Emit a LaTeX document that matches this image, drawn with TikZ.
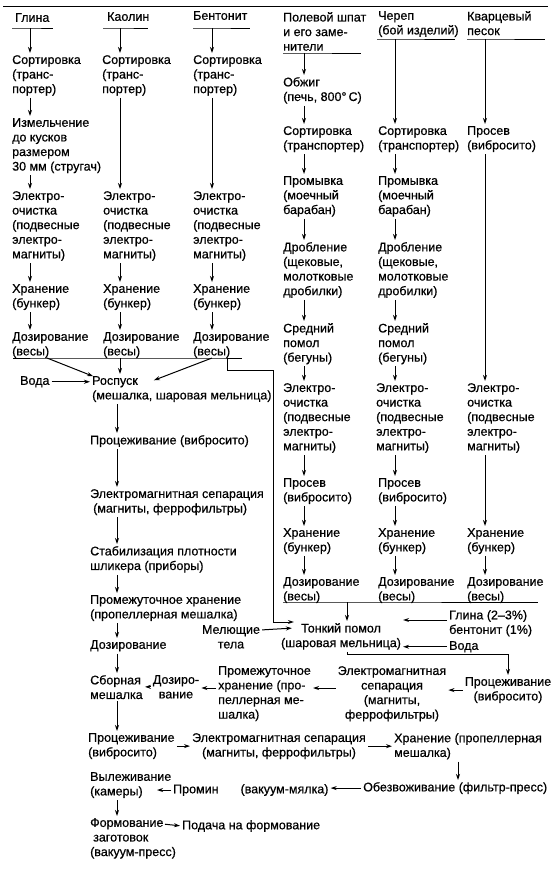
\documentclass[tikz,border=0pt]{standalone}
\usepackage{fontspec}
\setmainfont{Liberation Sans}[FakeBold=0.6]
\usetikzlibrary{arrows.meta,calc}

\begin{document}
\begin{tikzpicture}
[x=1pt, y=-1pt,
every node/.style={inner sep=0pt, font=\fontsize{12.5}{14.6}\selectfont},
stage/.style={anchor=north west, align=left},
mid/.style={anchor=north, align=center},
rule/.style={line width=1pt},
flow/.style={line width=1pt, -{Stealth[length=6pt, width=4pt]}, shorten <=2pt, shorten >=2pt},
from rule/.style={shorten <=0pt}]
\useasboundingbox (0,0) rectangle (560,871);
\coordinate (cg) at (30,0);
\coordinate (ck) at (120,0);
\coordinate (cb) at (212,0);
\coordinate (cm) at (117,0);
\coordinate (cf) at (304,0);
\coordinate (cc) at (395,0);
\coordinate (cq) at (485,0);
\coordinate (ch) at (458,0);
\draw [rule] (3,6) -- (548,6);
\node (g0) [stage] at (15, 13) {Глина};
\node (k0) [stage] at (107, 12) {Каолин};
\node (b0) [stage] at (193, 11) {Бентонит};
\node (f0) [stage] at (283, 12) {Полевой шпат\\и его заме-\\нители};
\node (c0) [stage] at (378, 11) {Череп\\(бой изделий)};
\node (q0) [stage] at (467, 11) {Кварцевый\\песок};
\draw [rule] (12,28) -- (30,28) coordinate (g0u) -- (53,28);
\draw [rule] (103,28) -- (120,28) coordinate (k0u) -- (148,28);
\draw [rule] (193,28) -- (212,28) coordinate (b0u) -- (250,28);
\draw [rule] (283,53) -- (304,53) coordinate (f0u) -- (361,53);
\draw [rule] (377,39) -- (395,39) coordinate (c0u) -- (455,39);
\draw [rule] (467,39) -- (485,39) coordinate (q0u) -- (545,39);
\node (g1) [stage] at (12, 55) {Сортировка\\(транс-\\портер)};
\node (k1) [stage] at (102, 55) {Сортировка\\(транс-\\портер)};
\node (b1) [stage] at (193, 55) {Сортировка\\(транс-\\портер)};
\node (g2) [stage] at (12, 118) {Измельчение\\до кусков\\размером\\30 мм (стругач)};
\node (g3) [stage] at (12, 191) {Электро-\\очистка\\(подвесные\\электро-\\магниты)};
\node (k3) [stage] at (103, 191) {Электро-\\очистка\\(подвесные\\электро-\\магниты)};
\node (b3) [stage] at (193, 191) {Электро-\\очистка\\(подвесные\\электро-\\магниты)};
\node (g4) [stage] at (12, 284) {Хранение\\(бункер)};
\node (k4) [stage] at (103, 284) {Хранение\\(бункер)};
\node (b4) [stage] at (193, 284) {Хранение\\(бункер)};
\node (g5) [stage] at (12, 332) {Дозирование\\(весы)};
\node (k5) [stage] at (103, 332) {Дозирование\\(весы)};
\node (b5) [stage] at (193, 332) {Дозирование\\(весы)};
\node (f1) [stage] at (283, 77) {Обжиг\\(печь, 800°\,С)};
\node (f2) [stage] at (283, 126) {Сортировка\\(транспортер)};
\node (c2) [stage] at (378, 126) {Сортировка\\(транспортер)};
\node (q1) [stage] at (467, 126) {Просев\\(вибросито)};
\node (f3) [stage] at (283, 176) {Промывка\\(моечный\\барабан)};
\node (c3) [stage] at (378, 176) {Промывка\\(моечный\\барабан)};
\node (f4) [stage] at (283, 242) {Дробление\\(щековые,\\молотковые\\дробилки)};
\node (c4) [stage] at (378, 242) {Дробление\\(щековые,\\молотковые\\дробилки)};
\node (f5) [stage] at (283, 323) {Средний\\помол\\(бегуны)};
\node (c5) [stage] at (378, 323) {Средний\\помол\\(бегуны)};
\node (f6) [stage] at (283, 383) {Электро-\\очистка\\(подвесные\\электро-\\магниты)};
\node (c6) [stage] at (376, 383) {Электро-\\очистка\\(подвесные\\электро-\\магниты)};
\node (q6) [stage] at (467, 383) {Электро-\\очистка\\(подвесные\\электро-\\магниты)};
\node (f7) [stage] at (283, 478) {Просев\\(вибросито)};
\node (c7) [stage] at (378, 478) {Просев\\(вибросито)};
\node (f8) [stage] at (283, 528) {Хранение\\(бункер)};
\node (c8) [stage] at (378, 528) {Хранение\\(бункер)};
\node (q8) [stage] at (467, 528) {Хранение\\(бункер)};
\node (f9) [stage] at (283, 577) {Дозирование\\(весы)};
\node (c9) [stage] at (378, 577) {Дозирование\\(весы)};
\node (q9) [stage] at (467, 577) {Дозирование\\(весы)};
\node (voda) [stage] at (20, 376) {Вода};
\node (m1) [stage] at (92, 376) {Роспуск\\(мешалка, шаровая мельница)};
\node (m2) [stage] at (90, 435) {Процеживание (вибросито)};
\node (m3) [stage] at (90, 489) {Электромагнитная сепарация\\\hspace*{3pt}(магниты, феррофильтры)};
\node (m4) [stage] at (90, 546) {Стабилизация плотности\\шликера (приборы)};
\node (m5) [stage] at (90, 595) {Промежуточное хранение\\(пропеллерная мешалка)};
\node (m6) [stage] at (90, 640) {Дозирование};
\node (m7) [stage] at (90, 675) {Сборная\\мешалка};
\node (m8) [stage] at (88, 733) {Процеживание\\(вибросито)};
\node (m9) [stage] at (90, 772) {Вылеживание\\(камеры)};
\node (m10) [stage] at (90, 818) {Формование\\\hspace*{3pt}заготовок\\(вакуум-пресс)};
\node (t1) [mid] at (341, 623) {Тонкий помол\\(шаровая мельница)};
\node (mt) [mid] at (231, 625) {Мелющие\\тела};
\node (gb) [stage] at (449, 610) {Глина (2–3\%)\\бентонит (1\%)};
\node (w2) [stage] at (449, 641) {Вода};
\node (p1) [mid] at (508, 677) {Процеживание\\(вибросито)};
\node (e1) [mid] at (392, 666) {Электромагнитная\\сепарация\\(магниты,\\феррофильтры)};
\node (h1) [stage] at (218, 666) {Промежуточное\\хранение (про-\\пеллерная ме-\\шалка)};
\node (d1) [mid] at (176, 675) {Дозиро-\\вание};
\node (e2) [mid] at (279, 733) {Электромагнитная сепарация\\(магниты, феррофильтры)};
\node (h2) [stage] at (394, 733) {Хранение (пропеллерная\\мешалка)};
\node (o1) [stage] at (363, 782) {Обезвоживание (фильтр-пресс)};
\node (pm) [stage] at (173, 784) {Промин\hspace*{22pt}(вакуум-мялка)};
\node (fe) [stage] at (182, 820) {Подача на формование};
\draw [flow, from rule] (g0u) -- (g1.north -| cg);
\draw [flow] (g1.south -| cg) -- (g2.north -| cg);
\draw [flow] (g2.south -| cg) -- (g3.north -| cg);
\draw [flow] (g3.south -| cg) -- (g4.north -| cg);
\draw [flow] (g4.south -| cg) -- (g5.north -| cg);
\draw [flow, from rule] (k0u) -- (k1.north -| ck);
\draw [flow] (k1.south -| ck) -- (k3.north -| ck);
\draw [flow] (k3.south -| ck) -- (k4.north -| ck);
\draw [flow] (k4.south -| ck) -- (k5.north -| ck);
\draw [flow, from rule] (b0u) -- (b1.north -| cb);
\draw [flow] (b1.south -| cb) -- (b3.north -| cb);
\draw [flow] (b3.south -| cb) -- (b4.north -| cb);
\draw [flow] (b4.south -| cb) -- (b5.north -| cb);
\draw [flow, from rule] (f0u) -- (f1.north -| cf);
\draw [flow] (f1.south -| cf) -- (f2.north -| cf);
\draw [flow] (f2.south -| cf) -- (f3.north -| cf);
\draw [flow] (f3.south -| cf) -- (f4.north -| cf);
\draw [flow] (f4.south -| cf) -- (f5.north -| cf);
\draw [flow] (f5.south -| cf) -- (f6.north -| cf);
\draw [flow] (f6.south -| cf) -- (f7.north -| cf);
\draw [flow] (f7.south -| cf) -- (f8.north -| cf);
\draw [flow] (f8.south -| cf) -- (f9.north -| cf);
\draw [flow, from rule] (c0u) -- (c2.north -| cc);
\draw [flow] (c2.south -| cc) -- (c3.north -| cc);
\draw [flow] (c3.south -| cc) -- (c4.north -| cc);
\draw [flow] (c4.south -| cc) -- (c5.north -| cc);
\draw [flow] (c5.south -| cc) -- (c6.north -| cc);
\draw [flow] (c6.south -| cc) -- (c7.north -| cc);
\draw [flow] (c7.south -| cc) -- (c8.north -| cc);
\draw [flow] (c8.south -| cc) -- (c9.north -| cc);
\draw [flow, from rule] (q0u) -- (q1.north -| cq);
\draw [flow] (q1.south -| cq) -- (q6.north -| cq);
\draw [flow] (q6.south -| cq) -- (q8.north -| cq);
\draw [flow] (q8.south -| cq) -- (q9.north -| cq);
\draw [rule] (13,358) -- (47,358) coordinate (bus1) -- (120,358) coordinate (bus2) -- (212,358) coordinate (bus3) -- (242,358);
\draw [flow, from rule] (227,358) |- (273,370) |- ($(t1.north west)+(15,-1)$);
\draw [flow, from rule] (bus1) -- ($(m1.north west)+(3,1)$);
\draw [flow, from rule] (bus2) -- (m1.north -| ck);
\draw [flow, from rule] (bus3) -- ($(m1.north west)+(60,5)$);
\draw [flow] (voda.east) -- (voda.east -| m1.west);
\draw [flow] (m1.south -| cm) -- (m2.north -| cm);
\draw [flow] (m2.south -| cm) -- (m3.north -| cm);
\draw [flow] (m3.south -| cm) -- (m4.north -| cm);
\draw [flow] (m4.south -| cm) -- (m5.north -| cm);
\draw [flow] (m5.south -| cm) -- (m6.north -| cm);
\draw [flow] (m6.south -| cm) -- (m7.north -| cm);
\draw [flow] (m7.south -| cm) -- (m8.north -| cm);
\draw [flow] (m9.south -| cm) -- (m10.north -| cm);
\draw [rule] (283,602) -- (347,602) coordinate (bus4) -- (538,602);
\draw [flow, from rule] (bus4) -- (t1.north -| bus4);
\coordinate (mtout) at ($(mt.north east)+(0,5)$);
\coordinate (gbout) at ($(gb.north west)+(0,10)$);
\coordinate (e1out) at ($(e1.north west)+(0,22)$);
\coordinate (h1out) at ($(h1.north west)+(0,22)$);
\draw [flow] (mtout) -- ($(t1.north west)+(13,5)$);
\draw [flow] (gbout) -- (gbout -| t1.east);
\draw [flow] (w2.west) -- (w2.west -| t1.east);
\draw [flow] ($(t1.south)+(6,0)$) -- ++(0,5) -| (p1.north);
\draw [flow] (p1.west) -- (p1.west -| e1.east);
\draw [flow] (e1out) -- (e1out -| h1.east);
\draw [flow] (h1out) -- (h1out -| d1.east);
\draw [flow] (d1.west) -- (d1.west -| m7.east);
\draw [flow] (m8.east) -- (m8.east -| e2.west);
\draw [flow] (e2.east) -- (e2.east -| h2.west);
\draw [flow] (h2.south -| ch) -- (o1.north -| ch);
\draw [flow] (o1.west) -- (o1.west -| pm.east);
\draw [flow] (pm.west) -- ($(pm.west)+(-18,0)$);
\draw [flow] ($(m10.north west)+(73,6)$) -- (fe.west);
\end{tikzpicture}
\end{document}
